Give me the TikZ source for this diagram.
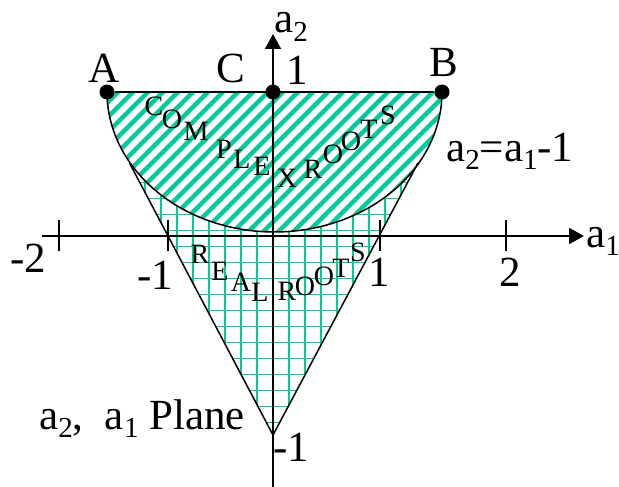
\documentclass[tikz,border=0pt]{standalone}
\usepackage{fontspec}
\setmainfont{Liberation Serif}
\usetikzlibrary{arrows.meta}
\definecolor{hatch}{RGB}{0,204,153}
\newcommand{\mysub}[1]{\raisebox{-0.2em}{\fontsize{29}{31}\selectfont #1}}
\begin{document}
\begin{tikzpicture}[x=1pt,y=-1pt,
  lbl/.style={inner sep=0pt,font=\fontsize{43}{47}\selectfont},
  let/.style={inner sep=0pt,font=\fontsize{28}{30}\selectfont},
  gridln/.style={draw=hatch,line width=1.4pt},
  stripe/.style={draw=hatch,line width=4.4pt},
  edge/.style={draw=black,line width=1.5pt},
  axis/.style={draw=black,line width=2pt,-{Triangle[length=15pt,width=16pt]}},
  tick/.style={draw=black,line width=1.8pt},
  dot/.style={circle,fill=black,inner sep=0pt,minimum size=15pt}]
\useasboundingbox (0,0) rectangle (619,487);
% named points
\coordinate (V) at (273,435);
\coordinate (L) at (129.5,163);
\coordinate (R) at (418,163);
% grid (real roots) inside triangle
\begin{scope}
  \clip (V) -- (L) -- (R) -- cycle;
  \foreach \i in {-10,...,10} \draw[gridln] ({273+16*\i},150) -- ({273+16*\i},440);
  \foreach \j in {-8,...,14} \draw[gridln] (120,{246.7+16*\j}) -- (430,{246.7+16*\j});
\end{scope}
% complex roots half ellipse
\fill[white] plot[domain=180:360,samples=120] ({274.5+167.5*cos(\x)},{92-140*sin(\x)}) -- cycle;
\begin{scope}
  \clip plot[domain=180:360,samples=120] ({274.5+167.5*cos(\x)},{92-140*sin(\x)}) -- cycle;
  \foreach \c in {180,195,...,740} \draw[stripe] ({\c-260},260) -- ({\c-70},70);
\end{scope}
\draw[edge] plot[domain=180:360,samples=120] ({274.5+167.5*cos(\x)},{92-140*sin(\x)});
% triangle edges
\draw[edge] (L) -- (V) -- (R);
% points A, C, B and top line
\node[dot] (A) at (107,92) {};
\node[dot] (C) at (273,92) {};
\node[dot] (B) at (442,92) {};
\draw[line width=2pt] (A) -- (B);
% axes
\coordinate (xl) at (42,236);
\coordinate (xr) at (584,236);
\coordinate (yt) at (273,34);
\coordinate (yb) at (273,487);
\draw[axis] (xl) -- (xr);
\draw[axis] (yb) -- (yt);
\foreach \t/\n in {59/tm2,168/tm1,380/tp1,506/tp2} {
  \coordinate (\n a) at (\t,220);
  \coordinate (\n b) at (\t,251);
  \draw[tick] (\n a) -- (\n b);
}
% labels
\node[lbl] (lA) at (104,68) {A};
\node[lbl] (lC) at (231,68) {C};
\node[lbl] (lB) at (444,62) {B};
\node[lbl] (l1) at (297,70) {1};
\node[lbl,anchor=base west] (la2) at (274,33) {a\mysub{2}};
\node[lbl,anchor=base west] (la1) at (586,247) {a\mysub{1}};
\node[lbl] (lm2) at (28,258) {-2};
\node[lbl] (lm1) at (155,275) {-1};
\node[lbl] (lp1) at (379,272) {1};
\node[lbl] (lp2) at (510,272) {2};
\node[lbl] (lmb) at (291,447) {-1};
\node[lbl,anchor=base west] (leq) at (446,161) {a\mysub{2}=a\mysub{1}-1};
\node[lbl,anchor=base west] (lpl) at (39,429) {a\mysub{2},\ \ a\mysub{1} Plane};
% COMPLEX ROOTS
\node[let] at (154,106) {C};
\node[let] at (172,119) {O};
\node[let] at (196,131) {M};
\node[let] at (224,149) {P};
\node[let] at (242,159) {L};
\node[let] at (262,166) {E};
\node[let] at (287,178) {X};
\node[let] at (313,169) {R};
\node[let] at (333,154) {O};
\node[let] at (351,141) {O};
\node[let] at (369,129) {T};
\node[let] at (388,115) {S};
% REAL ROOTS
\node[let] at (200,254) {R};
\node[let] at (220,271) {E};
\node[let] at (241,282) {A};
\node[let] at (260,292) {L};
\node[let] at (287,291) {R};
\node[let] at (305,286) {O};
\node[let] at (324,276) {O};
\node[let] at (341,268) {T};
\node[let] at (358,252) {S};
\end{tikzpicture}
\end{document}
